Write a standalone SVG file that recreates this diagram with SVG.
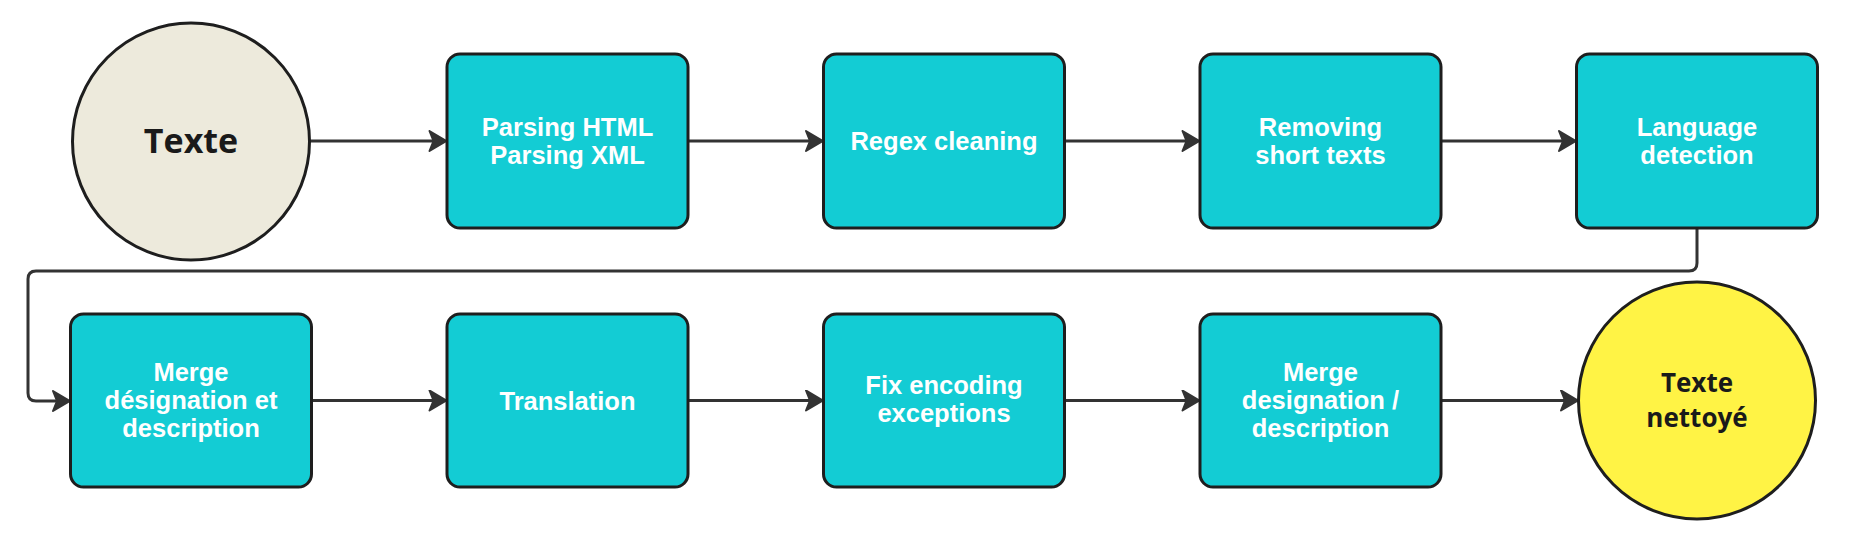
<svg xmlns="http://www.w3.org/2000/svg" width="1863" height="536" viewBox="0 0 1863 536">
  <style>
    .box { fill: #13CCD4; stroke: #1E1E1E; stroke-width: 3; }
    .circ { stroke: #1E1E1E; stroke-width: 3; }
    .bt { font-family: "Liberation Sans", Arial, sans-serif; font-weight: bold; font-size: 25.5px; fill: #FFFFFF; text-anchor: middle; }
    .ct { font-family: "Open Sans", "Noto Sans", sans-serif; font-weight: bold; fill: #1A1A1A; text-anchor: middle; }
    .conn { fill: none; stroke: #333333; stroke-width: 3; }
  </style>
  <defs>
    <marker id="arr" viewBox="0 0 22 22" refX="15" refY="11" markerWidth="22" markerHeight="22" markerUnits="userSpaceOnUse" orient="auto">
      <path d="M20.5,11 L3.5,1 L7.5,11 L3.5,21 Z" fill="#333333" stroke="#333333" stroke-width="2" stroke-linejoin="round"/>
    </marker>
  </defs>
  <rect width="1863" height="536" fill="#FFFFFF"/>

  <g id="connectors">
    <path class="conn" marker-end="url(#arr)" d="M310,141 H441"/>
    <path class="conn" marker-end="url(#arr)" d="M688,141 H817.5"/>
    <path class="conn" marker-end="url(#arr)" d="M1064.5,141 H1194"/>
    <path class="conn" marker-end="url(#arr)" d="M1441,141 H1570.5"/>
    <path class="conn" marker-end="url(#arr)" d="M1697,228 V263 Q1697,271 1689,271 H36 Q28,271 28,279 V393 Q28,401 36,401 H64.5"/>
    <path class="conn" marker-end="url(#arr)" d="M311.5,400.5 H441"/>
    <path class="conn" marker-end="url(#arr)" d="M688,400.5 H817.5"/>
    <path class="conn" marker-end="url(#arr)" d="M1064.5,400.5 H1194"/>
    <path class="conn" marker-end="url(#arr)" d="M1441,400.5 H1572.5"/>
  </g>

  <g id="texte">
    <circle class="circ" cx="191" cy="141.5" r="118.5" fill="#EDEADC"/>
    <text class="ct" x="191" y="153" font-size="34">Texte</text>
  </g>

  <g id="parsing">
    <rect class="box" x="447" y="54" width="241" height="174" rx="13"/>
    <text class="bt" x="567.5" y="136">Parsing HTML</text>
    <text class="bt" x="567.5" y="164">Parsing XML</text>
  </g>

  <g id="regex">
    <rect class="box" x="823.5" y="54" width="241" height="174" rx="13"/>
    <text class="bt" x="944" y="150">Regex cleaning</text>
  </g>

  <g id="removing">
    <rect class="box" x="1200" y="54" width="241" height="174" rx="13"/>
    <text class="bt" x="1320.5" y="136">Removing</text>
    <text class="bt" x="1320.5" y="164">short texts</text>
  </g>

  <g id="language">
    <rect class="box" x="1576.5" y="54" width="241" height="174" rx="13"/>
    <text class="bt" x="1697" y="136">Language</text>
    <text class="bt" x="1697" y="164">detection</text>
  </g>

  <g id="merge1">
    <rect class="box" x="70.5" y="314" width="241" height="173" rx="13"/>
    <text class="bt" x="191" y="381">Merge</text>
    <text class="bt" x="191" y="409">désignation et</text>
    <text class="bt" x="191" y="437">description</text>
  </g>

  <g id="translation">
    <rect class="box" x="447" y="314" width="241" height="173" rx="13"/>
    <text class="bt" x="567.5" y="409.5">Translation</text>
  </g>

  <g id="fix">
    <rect class="box" x="823.5" y="314" width="241" height="173" rx="13"/>
    <text class="bt" x="944" y="394">Fix encoding</text>
    <text class="bt" x="944" y="422">exceptions</text>
  </g>

  <g id="merge2">
    <rect class="box" x="1200" y="314" width="241" height="173" rx="13"/>
    <text class="bt" x="1320.5" y="381">Merge</text>
    <text class="bt" x="1320.5" y="409">designation /</text>
    <text class="bt" x="1320.5" y="437">description</text>
  </g>

  <g id="texte-nettoye">
    <circle class="circ" cx="1697" cy="400.5" r="118.5" fill="#FFF345"/>
    <text class="ct" x="1697" y="392" font-size="26">Texte</text>
    <text class="ct" x="1697" y="427" font-size="26">nettoyé</text>
  </g>
</svg>
